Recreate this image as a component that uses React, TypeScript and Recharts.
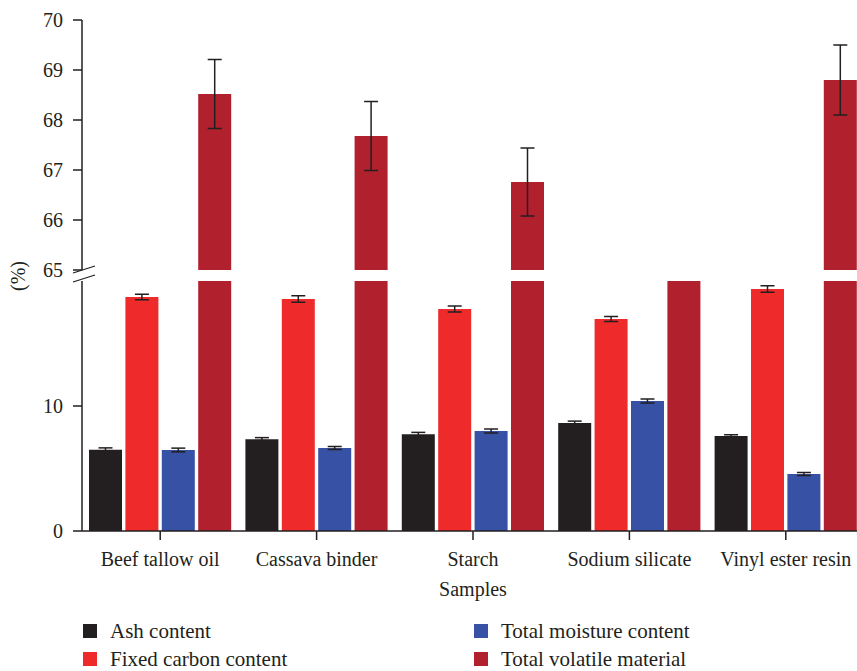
import React from 'react';
import { BarChart, Bar, XAxis, YAxis, ErrorBar, Legend, Customized } from 'recharts';

const categories = ['Beef tallow oil', 'Cassava binder', 'Starch', 'Sodium silicate', 'Vinyl ester resin'];
const ashContent = [6.5, 7.35, 7.75, 8.65, 7.6];
const ashErr = [0.15, 0.12, 0.14, 0.14, 0.1];
const fixedCarbon = [18.72, 18.56, 17.76, 16.96, 19.36];
const fixedCarbonErr = [0.22, 0.26, 0.24, 0.2, 0.26];
const moisture = [6.48, 6.64, 8.0, 10.4, 4.56];
const moistureErr = [0.15, 0.12, 0.16, 0.16, 0.12];
const volatile = [68.52, 67.68, 66.76, 63.5, 68.8];
const volatileErr = [0.69, 0.69, 0.68, 0.7, 0.7];

const lowerTicks = [0, 10];
const upperTicks = [65, 66, 67, 68, 69, 70];

const series = [
  { key: 'ash', name: 'Ash content', color: '#231f20' },
  { key: 'fixed', name: 'Fixed carbon content', color: '#ee2a2a' },
  { key: 'moisture', name: 'Total moisture content', color: '#3751a5' },
  { key: 'volatile', name: 'Total volatile material', color: '#b0202d' },
];

const lowerData = categories.map((name, i) => ({
  name,
  ash: ashContent[i],
  ashErr: ashErr[i],
  fixed: fixedCarbon[i],
  fixedErr: fixedCarbonErr[i],
  moisture: moisture[i],
  moistureErr: moistureErr[i],
  volatile: volatile[i],
}));

const upperData = categories.map((name, i) => ({
  name,
  volatile: volatile[i] >= 65 ? volatile[i] : null,
  volatileErr: volatile[i] >= 65 ? volatileErr[i] : null,
}));

const FONT = '"Liberation Serif", "Times New Roman", serif';
const INK = '#231f20';
const FS = 20;
const LFS = 21;
const W = 864;
const BAR = 33;
const GAP = 3.4;

const tickStyle = { fontSize: FS, fill: INK, fontFamily: FONT };

const Decorations = () => (
  <g>
    <line x1={73} y1={273} x2={95} y2={266} stroke={INK} strokeWidth={1.3} />
    <line x1={73} y1={282} x2={95} y2={275} stroke={INK} strokeWidth={1.3} />
    <text
      x={18}
      y={276}
      transform="rotate(-90 18 276)"
      textAnchor="middle"
      dominantBaseline="central"
      fontSize={FS}
      fill={INK}
      fontFamily={FONT}
    >
      (%)
    </text>
  </g>
);

const LegendContent = () => (
  <div style={{ position: 'relative', width: 857, height: 50, fontFamily: FONT, fontSize: LFS, color: INK }}>
    {series.map((s, i) => {
      const c = i < 2 ? 0 : 1;
      const r = i % 2;
      const left = c === 0 ? 83 : 474;
      const top = r === 0 ? 0 : 28;
      return (
        <div key={s.key} style={{ position: 'absolute', left, top, height: 20, display: 'flex', alignItems: 'center', whiteSpace: 'nowrap' }}>
          <span style={{ display: 'inline-block', width: 14, height: 14, background: s.color, marginRight: 13 }} />
          <span style={{ lineHeight: '20px' }}>{s.name}</span>
        </div>
      );
    })}
  </div>
);

export default function App() {
  return (
    <div style={{ position: 'fixed', left: 0, top: 0, width: 857, height: 671, overflow: 'hidden', fontFamily: FONT, background: '#fff' }}>
      <div style={{ position: 'absolute', left: 0, top: 0 }}>
        <BarChart
          width={W}
          height={671}
          data={lowerData}
          margin={{ top: 281, right: 0, bottom: 70, left: 0 }}
          barGap={GAP}
          barSize={BAR}
        >
          <XAxis
            dataKey="name"
            type="category"
            height={70}
            axisLine={{ stroke: INK, strokeWidth: 1.5 }}
            tickLine={{ stroke: INK, strokeWidth: 1.5 }}
            tickSize={9}
            tickMargin={12}
            tick={tickStyle}
            interval={0}
            label={{ value: 'Samples', position: 'insideBottom', offset: 5, style: tickStyle }}
          />
          <YAxis
            type="number"
            width={82}
            domain={[0, 20]}
            ticks={lowerTicks}
            allowDataOverflow
            axisLine={{ stroke: INK, strokeWidth: 1.5 }}
            tickLine={{ stroke: INK, strokeWidth: 1.5 }}
            tickSize={9}
            tickMargin={10}
            tick={tickStyle}
          />
          <Bar dataKey="ash" name="Ash content" fill={series[0].color} isAnimationActive={false}>
            <ErrorBar dataKey="ashErr" width={7} stroke={INK} strokeWidth={1.5} direction="y" />
          </Bar>
          <Bar dataKey="fixed" name="Fixed carbon content" fill={series[1].color} isAnimationActive={false}>
            <ErrorBar dataKey="fixedErr" width={7} stroke={INK} strokeWidth={1.5} direction="y" />
          </Bar>
          <Bar dataKey="moisture" name="Total moisture content" fill={series[2].color} isAnimationActive={false}>
            <ErrorBar dataKey="moistureErr" width={7} stroke={INK} strokeWidth={1.5} direction="y" />
          </Bar>
          <Bar dataKey="volatile" name="Total volatile material" fill={series[3].color} isAnimationActive={false} />
          <Customized component={Decorations} />
          <Legend
            layout="vertical"
            align="center"
            verticalAlign="middle"
            content={LegendContent}
            wrapperStyle={{ left: 0, top: 621, bottom: 'auto', width: 857, height: 50 }}
          />
        </BarChart>
      </div>
      <div style={{ position: 'absolute', left: 0, top: 0 }}>
        <BarChart
          width={W}
          height={283}
          data={upperData}
          margin={{ top: 20, right: 0, bottom: 13, left: 0 }}
          barGap={GAP}
          barSize={BAR}
        >
          <XAxis dataKey="name" type="category" hide />
          <YAxis
            type="number"
            width={82}
            domain={[65, 70]}
            ticks={upperTicks}
            allowDataOverflow
            axisLine={{ stroke: INK, strokeWidth: 1.5 }}
            tickLine={{ stroke: INK, strokeWidth: 1.5 }}
            tickSize={9}
            tickMargin={10}
            tick={tickStyle}
          />
          <Bar dataKey="ashU" fill={series[0].color} isAnimationActive={false} />
          <Bar dataKey="fixedU" fill={series[1].color} isAnimationActive={false} />
          <Bar dataKey="moistureU" fill={series[2].color} isAnimationActive={false} />
          <Bar dataKey="volatile" fill={series[3].color} isAnimationActive={false}>
            <ErrorBar dataKey="volatileErr" width={7} stroke={INK} strokeWidth={1.5} direction="y" />
          </Bar>
        </BarChart>
      </div>
    </div>
  );
}
